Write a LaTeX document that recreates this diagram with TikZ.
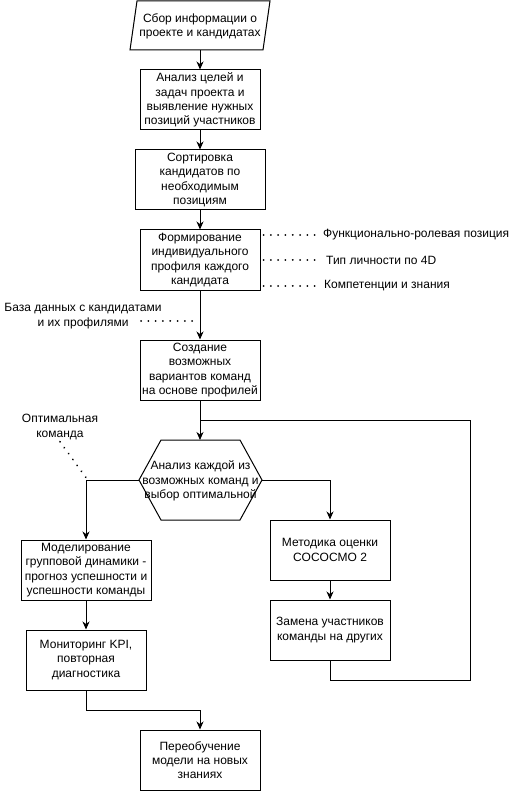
\documentclass[tikz,border=0pt]{standalone}
\usepackage{fontspec}
\setmainfont{Liberation Sans}
\usetikzlibrary{arrows.meta}
\begin{document}
\begin{tikzpicture}[x=1pt,y=-1pt,
  txt/.style={font=\fontsize{12}{14.3}\selectfont, align=center, inner sep=0pt},
  box/.style={txt, draw, line width=1pt, minimum height=60pt},
  ln/.style={line width=1pt},
  arr/.style={ln, -{Stealth[length=8pt,width=7pt,inset=2.5pt]}},
  dots/.style={line width=2pt, dash pattern=on 0.01pt off 7.3pt, line cap=round}]
\useasboundingbox (0,0) rectangle (511,791);
% parallelogram
\coordinate (ptl) at (137,1); \coordinate (ptr) at (270,1);
\coordinate (pbr) at (263,50); \coordinate (pbl) at (130,50);
\coordinate (pb) at (200,50);
\draw[ln] (ptl) -- (ptr) -- (pbr) -- (pbl) -- cycle;
\node[txt] (b1) at (200,26) {Сбор информации о\\проекте и кандидатах};
% boxes
\node[box, minimum width=120pt] (b2) at (200,100) {Анализ целей и\\задач проекта и\\выявление нужных\\позиций участников};
\node[box, minimum width=130pt] (b3) at (200,180) {Сортировка\\кандидатов по\\необходимым\\позициям};
\node[box, minimum width=120pt] (b4) at (200,260) {Формирование\\индивидуального\\профиля каждого\\кандидата};
\node[box, minimum width=120pt] (b5) at (200,370) {Создание\\возможных\\вариантов команд\\на основе профилей};
% hexagon
\coordinate (hl) at (139,480); \coordinate (htl) at (161,440); \coordinate (htr) at (240,440);
\coordinate (hr) at (262,480); \coordinate (hbr) at (240,520); \coordinate (hbl) at (161,520);
\coordinate (ht) at (200,440);
\draw[ln] (hl) -- (htl) -- (htr) -- (hr) -- (hbr) -- (hbl) -- cycle;
\node[txt] (hx) at (200.5,481) {Анализ каждой из\\возможных команд и\\выбор оптимальной};
\node[box, minimum width=130pt] (b6) at (86,570) {Моделирование\\групповой динамики -\\прогноз успешности и\\успешности команды};
\node[box, minimum width=120pt] (b7) at (86,660) {Мониторинг KPI,\\повторная\\диагностика};
\node[box, minimum width=120pt] (b8) at (200,760) {Переобучение\\модели на новых\\знаниях};
\node[box, minimum width=120pt] (b9) at (330,550) {Методика оценки\\COCOCMO 2};
\node[box, minimum width=120pt] (b10) at (330,630) {Замена участников\\команды на других};
% side labels
\node[txt, anchor=west] (l1) at (323,235) {Функционально-ролевая позиция};
\node[txt, anchor=west] (l2) at (326,260) {Тип личности по 4D};
\node[txt, anchor=west] (l3) at (324,286) {Компетенции и знания};
\node[txt] (l4) at (83,316) {База данных с кандидатами\\и их профилями};
\node[txt] (l5) at (60,427) {Оптимальная\\команда};
\coordinate (d4) at (141,321);
\coordinate (ck) at (87,479);
\coordinate (lp) at (470,420);
% connectors
\draw[arr] (pb) -- (b2);
\draw[arr] (b2) -- (b3);
\draw[arr] (b3) -- (b4);
\draw[arr] (b4) -- (b5);
\draw[arr] (b5) -- (ht);
\draw[ln] (b10.south) -- ++(0,20) -| (lp) -- (lp -| b5.south);
\draw[arr] (hl) -| (b6.north);
\draw[arr] (hr) -| (b9.north);
\draw[arr] (b9) -- (b10);
\draw[arr] (b6) -- (b7);
\draw[arr] (b7.south) -- ++(0,20) -| (b8.north);
% dotted
\draw[dots] ([xshift=3pt]b4.east |- l1.west) -- ([xshift=-5pt]l1.west);
\draw[dots] ([xshift=3pt]b4.east |- l2.west) -- ([xshift=-8pt]l2.west);
\draw[dots] ([xshift=3pt]b4.east |- l3.west) -- ([xshift=-6pt]l3.west);
\draw[dots] (d4) -- ([xshift=-3pt]d4 -| b5.north);
\draw[dots] ([yshift=-2pt]l5.south) -- (ck);
\end{tikzpicture}
\end{document}
